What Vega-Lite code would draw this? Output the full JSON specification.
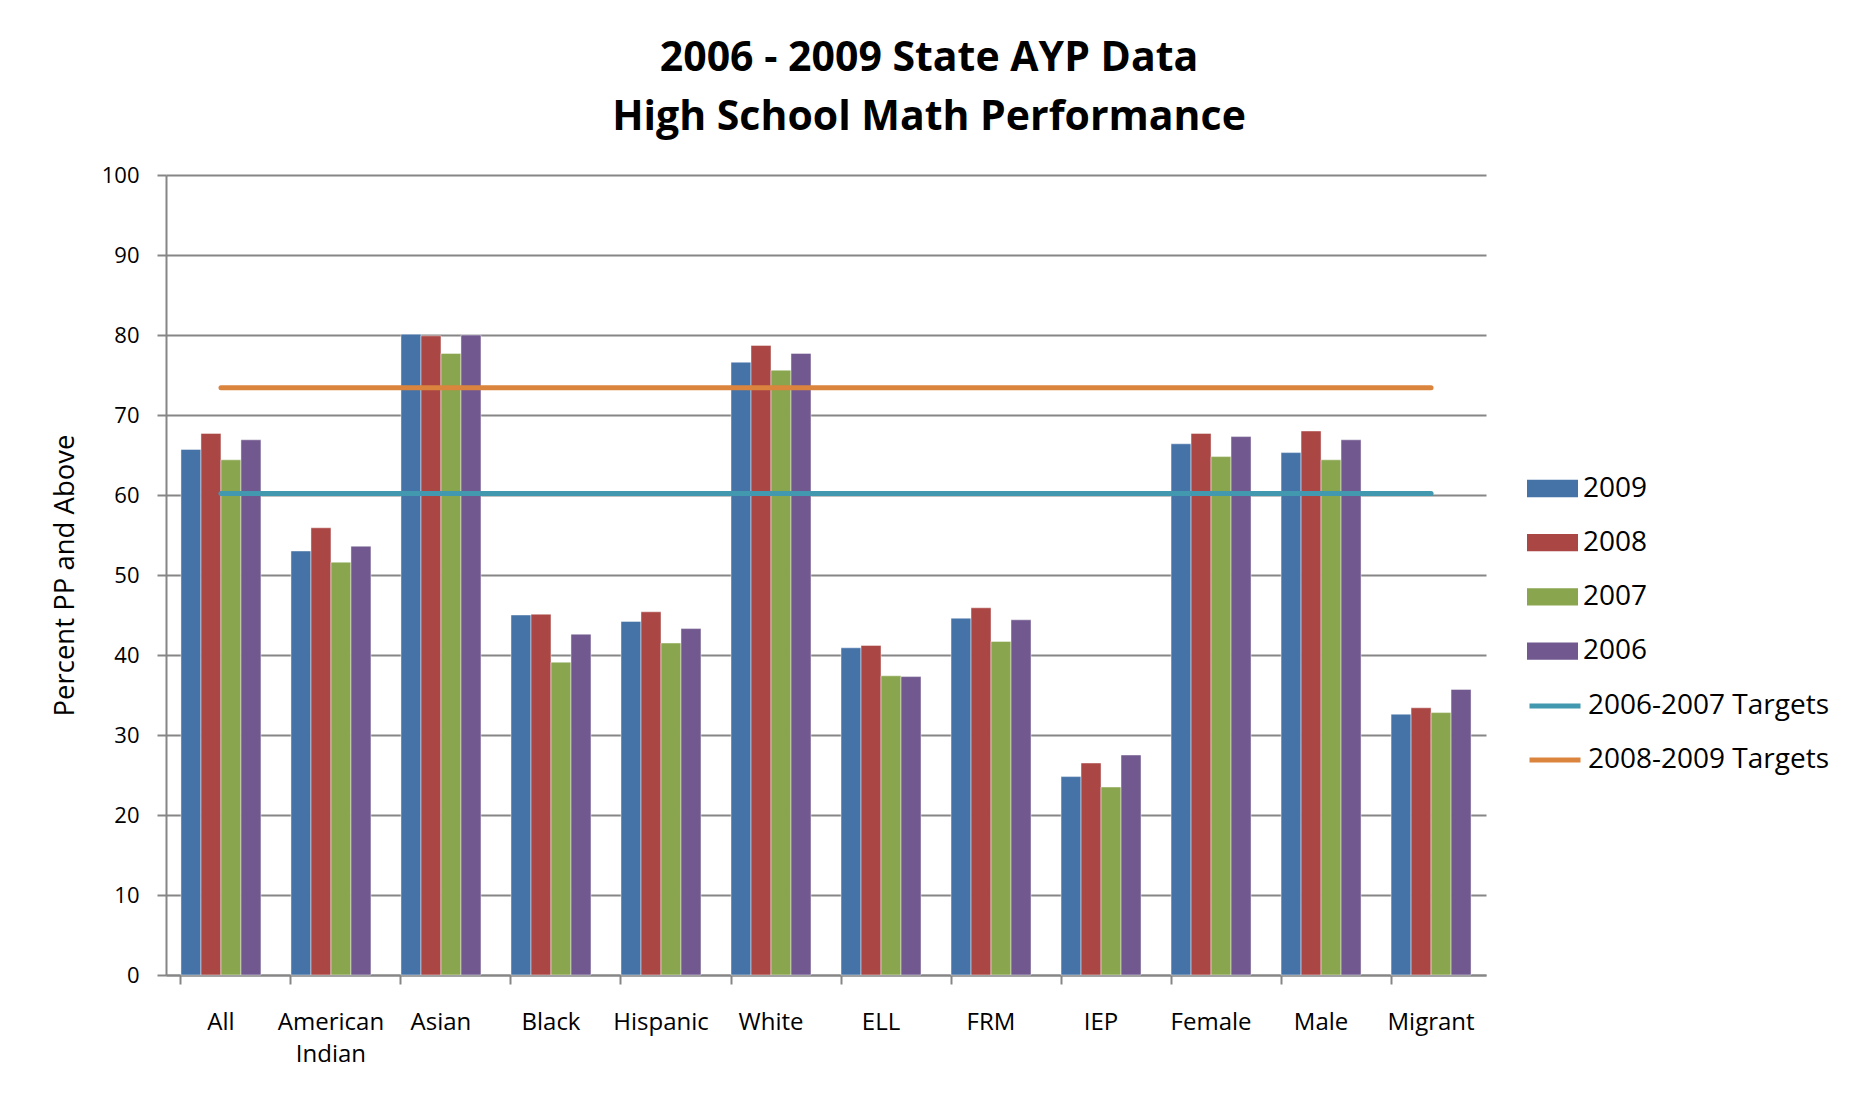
{
  "$schema": "https://vega.github.io/schema/vega-lite/v6.json",
  "width": 1320,
  "height": 800,
  "autosize": {"type": "none"},
  "padding": {"left": 166, "top": 175, "right": 371, "bottom": 120},
  "background": "white",
  "title": {
    "text": ["2006 - 2009 State AYP Data", "High School Math Performance"],
    "font": "Open Sans",
    "fontSize": 41,
    "fontWeight": "bold",
    "color": "black",
    "lineHeight": 59,
    "anchor": "middle",
    "dx": 103,
    "offset": 25
  },
  "config": {
    "view": {"stroke": null},
    "font": "Open Sans",
    "axis": {
      "labelFont": "Open Sans",
      "titleFont": "Open Sans",
      "labelColor": "black",
      "titleColor": "black",
      "domainColor": "#868686",
      "domainWidth": 2,
      "tickColor": "#868686",
      "tickWidth": 2,
      "gridColor": "#868686",
      "gridWidth": 2
    },
    "legend": {
      "labelFont": "Open Sans",
      "labelFontSize": 28,
      "labelColor": "black",
      "labelLimit": 500,
      "padding": 0,
      "symbolSize": 2601,
      "labelOffset": 5
    }
  },
  "datasets": {
    "scores": [
      {"group": "All", "year": "2009", "value": 65.7},
      {"group": "All", "year": "2008", "value": 67.7},
      {"group": "All", "year": "2007", "value": 64.4},
      {"group": "All", "year": "2006", "value": 66.9},
      {"group": "American Indian", "year": "2009", "value": 53.0},
      {"group": "American Indian", "year": "2008", "value": 55.9},
      {"group": "American Indian", "year": "2007", "value": 51.6},
      {"group": "American Indian", "year": "2006", "value": 53.6},
      {"group": "Asian", "year": "2009", "value": 80.1},
      {"group": "Asian", "year": "2008", "value": 79.9},
      {"group": "Asian", "year": "2007", "value": 77.7},
      {"group": "Asian", "year": "2006", "value": 80.0},
      {"group": "Black", "year": "2009", "value": 45.0},
      {"group": "Black", "year": "2008", "value": 45.1},
      {"group": "Black", "year": "2007", "value": 39.1},
      {"group": "Black", "year": "2006", "value": 42.6},
      {"group": "Hispanic", "year": "2009", "value": 44.2},
      {"group": "Hispanic", "year": "2008", "value": 45.4},
      {"group": "Hispanic", "year": "2007", "value": 41.5},
      {"group": "Hispanic", "year": "2006", "value": 43.3},
      {"group": "White", "year": "2009", "value": 76.6},
      {"group": "White", "year": "2008", "value": 78.7},
      {"group": "White", "year": "2007", "value": 75.6},
      {"group": "White", "year": "2006", "value": 77.7},
      {"group": "ELL", "year": "2009", "value": 40.9},
      {"group": "ELL", "year": "2008", "value": 41.2},
      {"group": "ELL", "year": "2007", "value": 37.4},
      {"group": "ELL", "year": "2006", "value": 37.3},
      {"group": "FRM", "year": "2009", "value": 44.6},
      {"group": "FRM", "year": "2008", "value": 45.9},
      {"group": "FRM", "year": "2007", "value": 41.7},
      {"group": "FRM", "year": "2006", "value": 44.4},
      {"group": "IEP", "year": "2009", "value": 24.8},
      {"group": "IEP", "year": "2008", "value": 26.5},
      {"group": "IEP", "year": "2007", "value": 23.5},
      {"group": "IEP", "year": "2006", "value": 27.5},
      {"group": "Female", "year": "2009", "value": 66.4},
      {"group": "Female", "year": "2008", "value": 67.7},
      {"group": "Female", "year": "2007", "value": 64.8},
      {"group": "Female", "year": "2006", "value": 67.3},
      {"group": "Male", "year": "2009", "value": 65.3},
      {"group": "Male", "year": "2008", "value": 68.0},
      {"group": "Male", "year": "2007", "value": 64.4},
      {"group": "Male", "year": "2006", "value": 66.9},
      {"group": "Migrant", "year": "2009", "value": 32.6},
      {"group": "Migrant", "year": "2008", "value": 33.4},
      {"group": "Migrant", "year": "2007", "value": 32.8},
      {"group": "Migrant", "year": "2006", "value": 35.7}
    ],
    "targets": [
      {"group": "All", "series": "2006-2007 Targets", "value": 60.2},
      {"group": "American Indian", "series": "2006-2007 Targets", "value": 60.2},
      {"group": "Asian", "series": "2006-2007 Targets", "value": 60.2},
      {"group": "Black", "series": "2006-2007 Targets", "value": 60.2},
      {"group": "Hispanic", "series": "2006-2007 Targets", "value": 60.2},
      {"group": "White", "series": "2006-2007 Targets", "value": 60.2},
      {"group": "ELL", "series": "2006-2007 Targets", "value": 60.2},
      {"group": "FRM", "series": "2006-2007 Targets", "value": 60.2},
      {"group": "IEP", "series": "2006-2007 Targets", "value": 60.2},
      {"group": "Female", "series": "2006-2007 Targets", "value": 60.2},
      {"group": "Male", "series": "2006-2007 Targets", "value": 60.2},
      {"group": "Migrant", "series": "2006-2007 Targets", "value": 60.2},
      {"group": "All", "series": "2008-2009 Targets", "value": 73.4},
      {"group": "American Indian", "series": "2008-2009 Targets", "value": 73.4},
      {"group": "Asian", "series": "2008-2009 Targets", "value": 73.4},
      {"group": "Black", "series": "2008-2009 Targets", "value": 73.4},
      {"group": "Hispanic", "series": "2008-2009 Targets", "value": 73.4},
      {"group": "White", "series": "2008-2009 Targets", "value": 73.4},
      {"group": "ELL", "series": "2008-2009 Targets", "value": 73.4},
      {"group": "FRM", "series": "2008-2009 Targets", "value": 73.4},
      {"group": "IEP", "series": "2008-2009 Targets", "value": 73.4},
      {"group": "Female", "series": "2008-2009 Targets", "value": 73.4},
      {"group": "Male", "series": "2008-2009 Targets", "value": 73.4},
      {"group": "Migrant", "series": "2008-2009 Targets", "value": 73.4}
    ]
  },
  "encoding": {
    "x": {
      "field": "group",
      "type": "nominal",
      "sort": ["All", "American Indian", "Asian", "Black", "Hispanic", "White", "ELL", "FRM", "IEP", "Female", "Male", "Migrant"],
      "scale": {"paddingInner": 0.273, "paddingOuter": 0.136},
      "axis": {
        "title": null,
        "labelAngle": 0,
        "labelFontSize": 24,
        "labelPadding": 26,
        "labelLineHeight": 32,
        "labelOverlap": false,
        "labelExpr": "datum.value == 'American Indian' ? ['American', 'Indian'] : datum.label",
        "tickSize": 9,
        "bandPosition": 0,
        "grid": false
      }
    },
    "y": {
      "field": "value",
      "type": "quantitative",
      "scale": {"domain": [0, 100], "nice": false},
      "axis": {
        "title": "Percent PP and Above",
        "titleFontSize": 27.5,
        "titleFontWeight": "normal",
        "titlePadding": 22,
        "values": [0, 10, 20, 30, 40, 50, 60, 70, 80, 90, 100],
        "labelFontSize": 22,
        "labelPadding": 18,
        "tickSize": 9,
        "grid": true
      }
    }
  },
  "layer": [
    {
      "data": {"name": "scores"},
      "mark": {"type": "bar", "stroke": "#ffffff", "strokeOpacity": 0.45, "strokeWidth": 1},
      "encoding": {
        "xOffset": {"field": "year", "type": "nominal", "sort": ["2009", "2008", "2007", "2006"], "scale": {"paddingInner": 0, "paddingOuter": 0}},
        "fill": {
          "field": "year",
          "type": "nominal",
          "scale": {"domain": ["2009", "2008", "2007", "2006"], "range": ["#4572A7", "#AA4643", "#89A54E", "#71588F"]},
          "legend": {
            "title": null,
            "orient": "none",
            "legendX": 1361,
            "legendY": 288,
            "rowPadding": 14.2,
            "symbolType": "M-1,-0.34H1V0.34H-1Z",
            "symbolStrokeWidth": 0
          }
        }
      }
    },
    {
      "data": {"name": "targets"},
      "mark": {"type": "line", "strokeWidth": 5, "strokeCap": "round"},
      "encoding": {
        "stroke": {
          "field": "series",
          "type": "nominal",
          "scale": {"domain": ["2006-2007 Targets", "2008-2009 Targets"], "range": ["#4198AF", "#DB843D"]},
          "legend": {
            "title": null,
            "orient": "none",
            "legendX": 1361,
            "legendY": 503,
            "rowPadding": 12,
            "symbolType": "stroke",
            "symbolStrokeWidth": 5
          }
        }
      }
    }
  ]
}
